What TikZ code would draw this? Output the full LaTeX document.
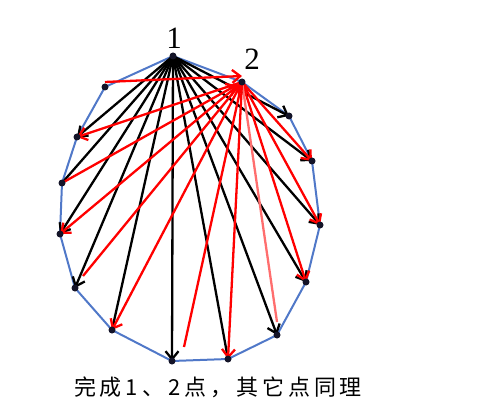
\documentclass[tikz,border=0pt]{standalone}
\usepackage{fontspec}
\setmainfont{Liberation Serif}
\newfontfamily\cjk[LetterSpace=18]{Noto Sans CJK SC}
\usetikzlibrary{arrows.meta}
\definecolor{polyblue}{RGB}{80,120,200}
\definecolor{dotcol}{RGB}{20,20,40}
\definecolor{pinkred}{RGB}{255,110,110}
\begin{document}
\begin{tikzpicture}[x=1pt,y=-1pt,
  poly/.style={draw=polyblue,line width=2pt,line join=round},
  blkarr/.style={draw=black,line width=2.3pt,-{Straight Barb[length=8pt,width=13pt]}},
  blkline/.style={draw=black,line width=2.3pt},
  redarr/.style={draw=red,line width=2.3pt,-{Straight Barb[length=8pt,width=13pt]}},
  redline/.style={draw=red,line width=2.3pt},
  pinkline/.style={draw=pinkred,line width=2.3pt},
  vdot/.style={fill=dotcol,circle,inner sep=0pt,minimum size=7pt},
  numlabel/.style={font=\fontsize{31}{31}\selectfont,inner sep=0pt},
  caption/.style={font=\cjk\fontsize{22}{22}\selectfont,inner sep=0pt}
]
\useasboundingbox (0,0) rectangle (480,404);
% vertices
\coordinate (v1) at (173,56);
\coordinate (v2) at (242,82);
\coordinate (v3) at (289,116);
\coordinate (v4) at (312,161);
\coordinate (v5) at (320,225);
\coordinate (v6) at (306,282);
\coordinate (v7) at (277,335);
\coordinate (v8) at (228,359);
\coordinate (v9) at (172,361);
\coordinate (v10) at (112,330);
\coordinate (v11) at (75,288);
\coordinate (v12) at (60,234);
\coordinate (v13) at (62,183);
\coordinate (v14) at (77,137);
\coordinate (v15) at (105,87);
% free ends of red lines
\coordinate (r15) at (105,82);
\coordinate (t15) at (242,76);
\coordinate (r11) at (83,276);
\coordinate (r9) at (184,347);
\coordinate (r7) at (277,322);
% polygon
\draw[poly] (v1) -- (v2) -- (v3) -- (v4) -- (v5) -- (v6) -- (v7) -- (v8) -- (v9) -- (v10) -- (v11) -- (v12) -- (v13) -- (v14) -- (v15) -- cycle;
% black from 1
\draw[blkarr] (v1) -- (v3);
\draw[blkarr] (v1) -- (v4);
\draw[blkarr] (v1) -- (v5);
\draw[blkarr] (v1) -- (v6);
\draw[blkarr] (v1) -- (v7);
\draw[blkline] (v1) -- (v8);
\draw[blkarr] (v1) -- (v9);
\draw[blkline] (v1) -- (v10);
\draw[blkarr] (v1) -- (v11);
\draw[blkarr] (v1) -- (v12);
\draw[blkline] (v1) -- (v13);
\draw[blkarr] (v1) -- (v14);
% red from 2
\draw[redarr] (v2) -- (v4);
\draw[redarr] (v2) -- (v5);
\draw[redarr] (v2) -- (v6);
\draw[pinkline] (v2) -- (r7);
\draw[redarr] (v2) -- (v8);
\draw[redline] (v2) -- (r9);
\draw[redarr] (v2) -- (v10);
\draw[redarr, shorten >=3pt] (r11) -- (v2);
\draw[redarr] (v2) -- (v12);
\draw[redarr, shorten >=6pt] (v13) -- (v2);
\draw[redarr] (v2) -- (v14);
\draw[redarr] (r15) -- (t15);
% dots
\foreach \v in {v1,v2,v3,v4,v5,v6,v7,v8,v9,v10,v11,v12,v13,v14,v15}
  \node[vdot] at (\v) {};
% labels
\node[numlabel] (l1) at (174,38) {1};
\node[numlabel] (l2) at (252,59) {2};
\node[caption] (cap) at (218,387) {完成1、2点，其它点同理};
\end{tikzpicture}
\end{document}
